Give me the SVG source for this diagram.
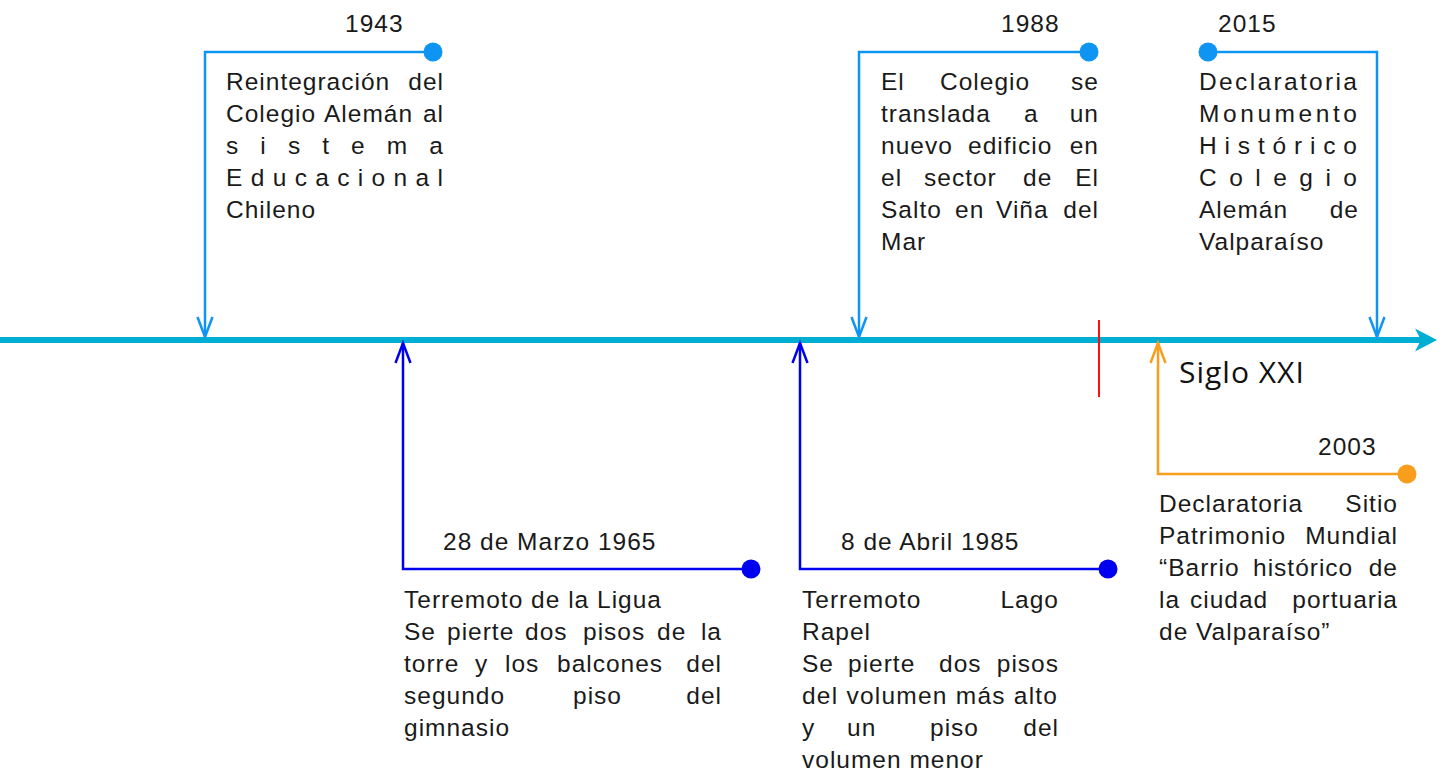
<svg xmlns="http://www.w3.org/2000/svg" width="1442" height="773" viewBox="0 0 1442 773">
<style>
.t{font-family:"Liberation Sans",Arial,sans-serif;font-size:24.5px;letter-spacing:1px;fill:#1a1a1a}
.sp{letter-spacing:0px}
.e{text-anchor:end}
.siglo{font-family:"Open Sans","Liberation Sans",sans-serif;font-size:30px;fill:#111;letter-spacing:1px}
.lb{stroke:#0E95F4;stroke-width:2.5;fill:none}
.db{stroke:#0000F0;stroke-width:2.5;fill:none}
.or{stroke:#F99D1C;stroke-width:2.5;fill:none}
</style>
<defs>
<marker id="ah-lb" markerUnits="userSpaceOnUse" markerWidth="30" markerHeight="30" viewBox="-25 -15 30 30" refX="0" refY="0" orient="auto" overflow="visible"><path d="M-20,-7.5 L0,0 L-20,7.5" fill="none" stroke="#0E95F4" stroke-width="2.5"/></marker>
<marker id="ah-db" markerUnits="userSpaceOnUse" markerWidth="30" markerHeight="30" viewBox="-25 -15 30 30" refX="0" refY="0" orient="auto" overflow="visible"><path d="M-20,-7.5 L0,0 L-20,7.5" fill="none" stroke="#0000F0" stroke-width="2.5"/></marker>
<marker id="ah-or" markerUnits="userSpaceOnUse" markerWidth="30" markerHeight="30" viewBox="-25 -15 30 30" refX="0" refY="0" orient="auto" overflow="visible"><path d="M-20,-7.5 L0,0 L-20,7.5" fill="none" stroke="#F99D1C" stroke-width="2.5"/></marker>
</defs>
<rect width="1442" height="773" fill="#ffffff"/>

<g id="connectors">
<path d="M0,340 H1424" stroke="#00ADD3" stroke-width="6" fill="none"/>
<path d="M1437,340 L1415,328.5 L1421,340 L1415,351.5 Z" fill="#00ADD3"/>
<path class="lb" d="M433,52 H205 V337" marker-end="url(#ah-lb)"/>
<path class="lb" d="M1089,52 H859 V337" marker-end="url(#ah-lb)"/>
<path class="lb" d="M1208,52 H1377 V337" marker-end="url(#ah-lb)"/>
<path class="db" d="M751,569 H403 V343" marker-end="url(#ah-db)"/>
<path class="db" d="M1108,569 H800 V343" marker-end="url(#ah-db)"/>
<path class="or" d="M1407,474 H1158 V343" marker-end="url(#ah-or)"/>
</g>

<g id="siglo-xxi">
<line x1="1099" y1="320" x2="1099" y2="397" stroke="#FF1010" stroke-width="2"/>
<text class="siglo" x="1179" y="383">Siglo XXI</text>
</g>

<g id="event-1943">
<circle cx="433" cy="52" r="9.5" fill="#0E95F4"/>
<text class="t" x="345" y="32">1943</text>
<text class="t" y="90"><tspan x="226">Reintegración </tspan><tspan class="e" x="444">del</tspan></text>
<text class="t" y="122"><tspan x="226">Colegio </tspan><tspan x="324">Alemán </tspan><tspan class="e" x="444">al</tspan></text>
<text class="t sp" x="226" y="154" textLength="217" lengthAdjust="spacing">sistema</text>
<text class="t sp" x="226" y="186" textLength="217" lengthAdjust="spacing">Educacional</text>
<text class="t" x="226" y="218">Chileno</text>
</g>

<g id="event-1988">
<circle cx="1089" cy="52" r="9.5" fill="#0E95F4"/>
<text class="t" x="1001" y="32">1988</text>
<text class="t" y="90"><tspan x="881">El </tspan><tspan x="940">Colegio </tspan><tspan class="e" x="1099">se</tspan></text>
<text class="t" y="122"><tspan x="881">translada </tspan><tspan x="1024">a </tspan><tspan class="e" x="1099">un</tspan></text>
<text class="t" y="154"><tspan x="881">nuevo </tspan><tspan x="968">edificio </tspan><tspan class="e" x="1099">en</tspan></text>
<text class="t" y="186"><tspan x="881">el </tspan><tspan x="924">sector </tspan><tspan x="1023">de </tspan><tspan class="e" x="1099">El</tspan></text>
<text class="t" y="218"><tspan x="881">Salto </tspan><tspan x="955">en </tspan><tspan x="996">Viña </tspan><tspan class="e" x="1099">del</tspan></text>
<text class="t" x="881" y="250">Mar</text>
</g>

<g id="event-2015">
<circle cx="1208" cy="52" r="9.5" fill="#0E95F4"/>
<text class="t" x="1218" y="32">2015</text>
<text class="t sp" x="1199" y="90" textLength="158" lengthAdjust="spacing">Declaratoria</text>
<text class="t sp" x="1199" y="122" textLength="158" lengthAdjust="spacing">Monumento</text>
<text class="t sp" x="1199" y="154" textLength="158" lengthAdjust="spacing">Histórico</text>
<text class="t sp" x="1199" y="186" textLength="158" lengthAdjust="spacing">Colegio</text>
<text class="t" y="218"><tspan x="1199">Alemán </tspan><tspan class="e" x="1359">de</tspan></text>
<text class="t" x="1199" y="250">Valparaíso</text>
</g>

<g id="event-2003">
<circle cx="1407" cy="474" r="9.5" fill="#F99D1C"/>
<text class="t" x="1318" y="455">2003</text>
<text class="t" y="512"><tspan x="1159">Declaratoria </tspan><tspan class="e" x="1398">Sitio</tspan></text>
<text class="t" y="544"><tspan x="1159">Patrimonio </tspan><tspan class="e" x="1398">Mundial</tspan></text>
<text class="t" y="576"><tspan x="1159">“Barrio </tspan><tspan x="1253">histórico </tspan><tspan class="e" x="1398">de</tspan></text>
<text class="t" y="608"><tspan x="1159">la </tspan><tspan x="1190">ciudad </tspan><tspan class="e" x="1398">portuaria</tspan></text>
<text class="t" x="1159" y="640">de Valparaíso”</text>
</g>

<g id="event-1965">
<circle cx="751" cy="569" r="9.5" fill="#0000F0"/>
<text class="t" x="443" y="550">28 de Marzo 1965</text>
<text class="t" x="404" y="608">Terremoto de la Ligua</text>
<text class="t" y="640"><tspan x="404">Se </tspan><tspan x="447">pierte </tspan><tspan x="525">dos </tspan><tspan x="583">pisos </tspan><tspan x="657">de </tspan><tspan class="e" x="722">la</tspan></text>
<text class="t" y="672"><tspan x="404">torre </tspan><tspan x="475">y </tspan><tspan x="505">los </tspan><tspan x="557">balcones </tspan><tspan class="e" x="722">del</tspan></text>
<text class="t" y="704"><tspan x="404">segundo </tspan><tspan x="573">piso </tspan><tspan class="e" x="722">del</tspan></text>
<text class="t" x="404" y="736">gimnasio</text>
</g>

<g id="event-1985">
<circle cx="1108" cy="569" r="9.5" fill="#0000F0"/>
<text class="t" x="841" y="550">8 de Abril 1985</text>
<text class="t" y="608"><tspan x="802">Terremoto </tspan><tspan class="e" x="1059">Lago</tspan></text>
<text class="t" x="802" y="640">Rapel</text>
<text class="t" y="672"><tspan x="802">Se </tspan><tspan x="848">pierte </tspan><tspan x="939">dos </tspan><tspan class="e" x="1059">pisos</tspan></text>
<text class="t" x="802" y="704" textLength="256" lengthAdjust="spacing">del volumen más alto</text>
<text class="t" y="736"><tspan x="802">y </tspan><tspan x="847">un </tspan><tspan x="930">piso </tspan><tspan class="e" x="1059">del</tspan></text>
<text class="t" x="802" y="768">volumen menor</text>
</g>
</svg>
